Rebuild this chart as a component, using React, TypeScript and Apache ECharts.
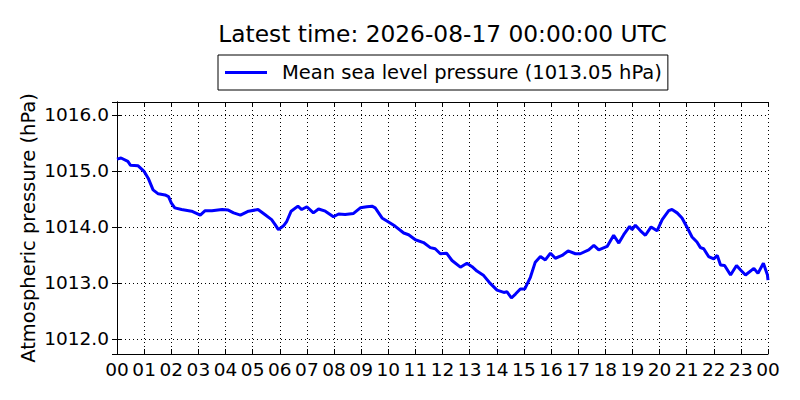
import React, { useEffect, useRef } from "react";
import * as echarts from "echarts";

const titleText = "Latest time: 2026-08-17 00:00:00 UTC";
const seriesName = "Mean sea level pressure (1013.05 hPa)";
const yAxisName = "Atmospheric pressure (hPa)";

const hours = [
  0.0, 0.15, 0.4, 0.5, 0.78, 1.0, 1.15, 1.33, 1.52, 1.77, 1.9, 2.0, 2.13, 2.38, 2.75,
  3.07, 3.25, 3.5, 3.87, 4.1, 4.3, 4.55, 4.85, 5.2, 5.45, 5.7, 5.83, 5.95, 6.14, 6.26,
  6.42, 6.67, 6.81, 7.0, 7.24, 7.43, 7.68, 7.98, 8.17, 8.41, 8.72, 8.97, 9.21, 9.4,
  9.52, 9.77, 10.07, 10.26, 10.57, 10.75, 11.0, 11.3, 11.55, 11.73, 11.92, 12.15,
  12.35, 12.66, 12.9, 13.09, 13.27, 13.52, 13.76, 14.01, 14.26, 14.38, 14.54, 14.69,
  14.87, 15.03, 15.24, 15.42, 15.61, 15.79, 15.98, 16.16, 16.41, 16.63, 16.9, 17.08,
  17.39, 17.58, 17.76, 18.07, 18.31, 18.5, 18.68, 18.9, 18.99, 19.11, 19.3, 19.48,
  19.69, 19.91, 20.1, 20.34, 20.46, 20.65, 20.83, 21.04, 21.2, 21.38, 21.51, 21.63,
  21.81, 22.0, 22.13, 22.25, 22.4, 22.62, 22.84, 22.99, 23.17, 23.48, 23.63, 23.83,
  23.98, 24.0,
];

const pressure = [
  1015.21, 1015.23, 1015.17, 1015.1, 1015.09, 1014.99, 1014.87, 1014.66, 1014.59,
  1014.57, 1014.54, 1014.43, 1014.34, 1014.31, 1014.28, 1014.21, 1014.29, 1014.29,
  1014.31, 1014.3, 1014.25, 1014.21, 1014.28, 1014.31, 1014.22, 1014.13, 1014.04,
  1013.95, 1014.02, 1014.1, 1014.28, 1014.37, 1014.31, 1014.36, 1014.25, 1014.32,
  1014.28, 1014.18, 1014.23, 1014.22, 1014.24, 1014.34, 1014.36, 1014.37, 1014.34,
  1014.16, 1014.07, 1014.01, 1013.89, 1013.86, 1013.77, 1013.72, 1013.63, 1013.61,
  1013.52, 1013.53, 1013.4, 1013.28, 1013.35, 1013.29, 1013.21, 1013.13, 1012.99,
  1012.87, 1012.83, 1012.84, 1012.73, 1012.8, 1012.89, 1012.89, 1013.1, 1013.37,
  1013.47, 1013.41, 1013.53, 1013.44, 1013.49, 1013.57, 1013.52, 1013.52, 1013.59,
  1013.67, 1013.59, 1013.65, 1013.85, 1013.71, 1013.86, 1014.01, 1013.95, 1014.03,
  1013.93, 1013.85, 1014.0, 1013.93, 1014.13, 1014.29, 1014.31, 1014.25, 1014.16,
  1013.97, 1013.82, 1013.73, 1013.63, 1013.61, 1013.47, 1013.43, 1013.49, 1013.32,
  1013.31, 1013.14, 1013.31, 1013.23, 1013.14, 1013.26, 1013.17, 1013.35, 1013.14,
  1013.05,
];

const yMin = 1011.73;
const yMax = 1016.23;
const xMin = 0;
const xMax = 24;

const FONT = "DejaVu Sans";

export default function App() {
  const ref = useRef<HTMLDivElement>(null);

  useEffect(() => {
    if (!ref.current) return;
    const chart = echarts.init(ref.current, undefined, { renderer: "svg" });
    const data = hours.map((h, i) => [h, pressure[i]]);
    const hourLabel = (v: number) => String(Math.round(v) % 24).padStart(2, "0");

    const tickCommon = {
      show: true,
      inside: true,
      length: 5,
      lineStyle: { color: "#000", width: 1 },
    };
    const axisLineCommon = { show: true, lineStyle: { color: "#000", width: 1 } };

    chart.setOption({
      animation: false,
      backgroundColor: "#fff",
      textStyle: { fontFamily: FONT },
      grid: { left: 117, right: 32, top: 102, bottom: 46, containLabel: false },
      graphic: [
        {
          type: "text",
          x: 442.5,
          y: 33,
          style: {
            text: titleText,
            fontSize: 23.3,
            fontFamily: FONT,
            fill: "#000",
            textAlign: "center",
            textVerticalAlign: "middle",
          },
        },
      ],
      legend: {
        show: true,
        left: 218,
        top: 55,
        orient: "horizontal",
        padding: [7, 6, 7, 7],
        borderColor: "#000",
        borderWidth: 1,
        backgroundColor: "#fff",
        borderRadius: 0,
        icon: "rect",
        itemWidth: 42,
        itemHeight: 3,
        textStyle: {
          fontSize: 19.5,
          fontFamily: FONT,
          color: "#000",
          lineHeight: 21,
          padding: [0, 0, 0, 10],
        },
        data: [{ name: seriesName, itemStyle: { color: "#0000ff" } }],
      },
      xAxis: [
        {
          type: "value",
          min: xMin,
          max: xMax,
          interval: 1,
          axisLine: axisLineCommon,
          axisTick: tickCommon,
          axisLabel: {
            show: true,
            fontSize: 18.5,
            fontFamily: FONT,
            color: "#000",
            margin: 6,
            formatter: hourLabel,
          },
          splitLine: {
            show: true,
            lineStyle: { color: "#000", width: 1, type: [1, 3] },
          },
        },
        {
          type: "value",
          position: "top",
          min: xMin,
          max: xMax,
          interval: 1,
          axisLine: axisLineCommon,
          axisTick: tickCommon,
          axisLabel: { show: false },
          splitLine: { show: false },
        },
      ],
      yAxis: [
        {
          type: "value",
          min: yMin,
          max: yMax,
          splitNumber: 5,
          scale: true,
          name: yAxisName,
          nameLocation: "middle",
          nameGap: 79,
          nameMoveOverlap: false,
          nameTextStyle: { fontSize: 19.5, fontFamily: FONT, color: "#000" },
          axisLine: axisLineCommon,
          axisTick: tickCommon,
          axisLabel: {
            show: true,
            fontSize: 18.5,
            fontFamily: FONT,
            color: "#000",
            margin: 8,
            showMinLabel: false,
            showMaxLabel: false,
            formatter: (v: number) => v.toFixed(1),
          },
          splitLine: {
            show: true,
            lineStyle: { color: "#000", width: 1, type: [1, 3] },
          },
        },
        {
          type: "value",
          position: "right",
          min: yMin,
          max: yMax,
          splitNumber: 5,
          scale: true,
          axisLine: axisLineCommon,
          axisTick: tickCommon,
          axisLabel: { show: false },
          splitLine: { show: false },
        },
      ],
      series: [
        {
          name: seriesName,
          type: "line",
          xAxisIndex: 0,
          yAxisIndex: 0,
          data,
          showSymbol: false,
          symbol: "none",
          lineStyle: { color: "#0000ff", width: 3 },
          itemStyle: { color: "#0000ff" },
        },
      ],
    });

    return () => chart.dispose();
  }, []);

  return (
    <div
      ref={ref}
      style={{ position: "fixed", left: 0, top: 0, width: 800, height: 400 }}
    />
  );
}
